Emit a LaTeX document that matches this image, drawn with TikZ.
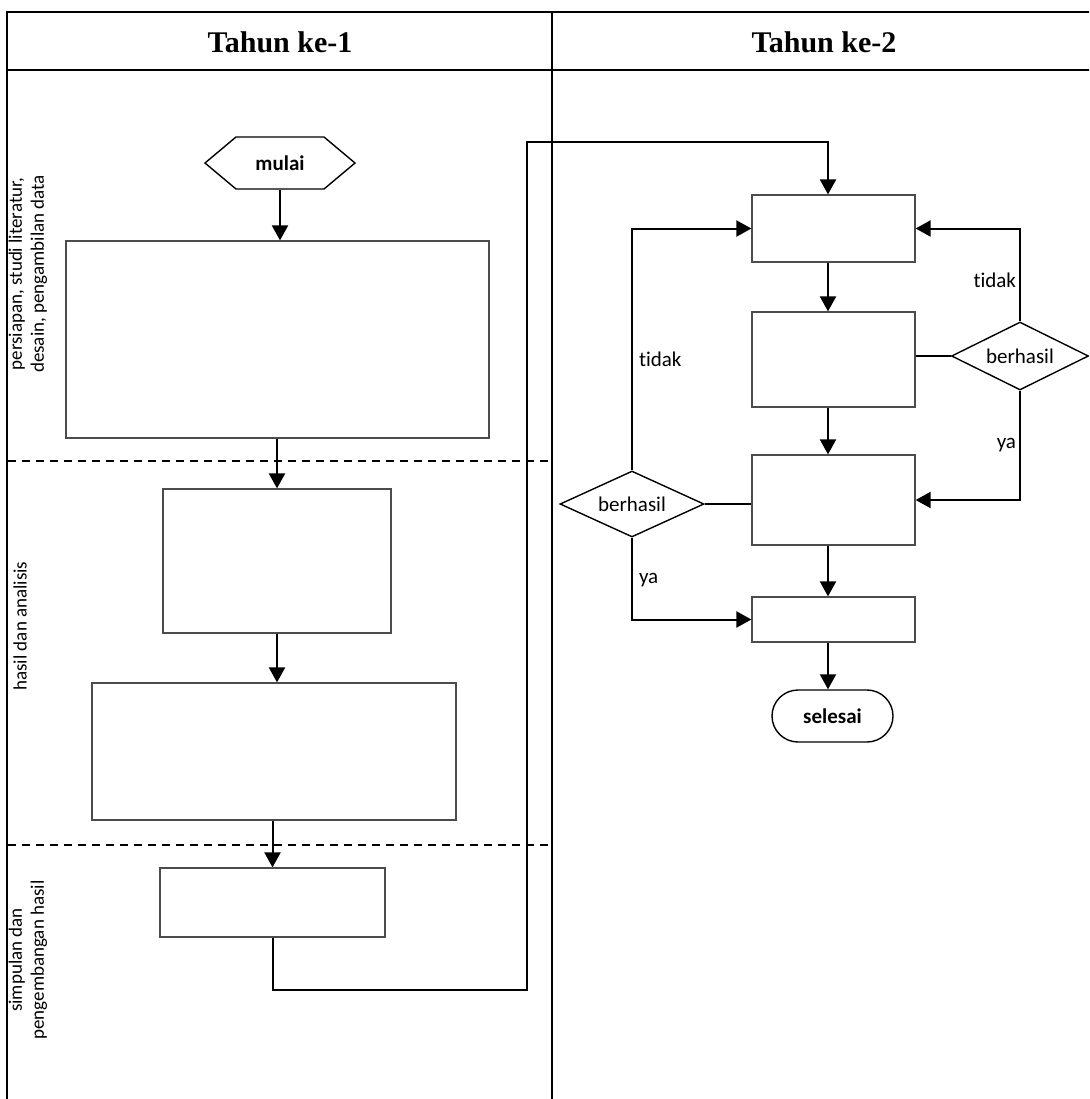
\documentclass[tikz,border=0pt]{standalone}
\usepackage{fontspec}
\setmainfont{Carlito}[Ligatures=NoCommon]
\newfontfamily\headfont{Liberation Serif}
\usetikzlibrary{arrows.meta,shapes.geometric,shapes.symbols}
\begin{document}
\begin{tikzpicture}[x=0.5pt,y=-0.5pt,
  font=\fontsize{10.5}{12.6}\selectfont,
  box/.style={draw=black!70, line width=0.6pt, inner sep=0pt},
  arr/.style={line width=1pt, -{Triangle[length=7.5pt,width=8pt]}},
  link/.style={line width=1pt},
  frame/.style={line width=1.4pt},
  choice/.style={diamond, draw, line width=0.7pt, aspect=2, inner sep=0pt},
  side/.style={rotate=90, align=center, font=\fontsize{9.5}{11}\selectfont},
  head/.style={font=\headfont\bfseries\fontsize{15}{18}\selectfont}]

\useasboundingbox (0,0) rectangle (1089,1099);
\clip (0,0) rectangle (1089,1099);

\draw[frame] (7,12) rectangle (1100,1110);
\draw[frame] (7,70) -- (1100,70);
\draw[line width=1pt] (552,12) -- (552,1110);
\draw[line width=1pt, dash pattern=on 4pt off 3pt] (8,461) -- (548,461);
\draw[line width=1pt, dash pattern=on 4pt off 3pt] (8,845) -- (548,845);

\node[head] (h1) at (280,42) {Tahun ke-1};
\node[head] (h2) at (824,42) {Tahun ke-2};

\node[side] (lab1) at (28,274) {persiapan, studi literatur,\\desain, pengambilan data};
\node[side] (lab2) at (20,626) {hasil dan analisis};
\node[side] (lab3) at (28,960) {simpulan dan\\pengembangan hasil};

\node[signal, signal to=east and west, signal pointer angle=80, draw, line width=0.7pt,
  minimum width=75pt, minimum height=26pt, inner sep=0pt, font=\bfseries\fontsize{10.5}{12.6}\selectfont] (mulai) at (280,163) {mulai};
\node[box, minimum width=211.5pt, minimum height=98.5pt] (b1) at (277.5,339.5) {};
\node[box, minimum width=114pt, minimum height=72pt] (b2) at (277,561) {};
\node[box, minimum width=182pt, minimum height=68.5pt] (b3) at (274,751.5) {};
\node[box, minimum width=112.5pt, minimum height=34.5pt] (b4) at (272.5,902.5) {};

\node[box, minimum width=81.5pt, minimum height=33.5pt] (bA) at (833.5,228.5) {};
\node[box, minimum width=81.5pt, minimum height=47.5pt] (bB) at (833.5,359.5) {};
\node[box, minimum width=81.5pt, minimum height=45pt] (bC) at (833.5,500) {};
\node[box, minimum width=81.5pt, minimum height=22.5pt] (bD) at (833.5,619.5) {};
\node[draw, line width=0.7pt, rounded corners=13pt, minimum width=60.5pt, minimum height=26pt,
  font=\bfseries\fontsize{10.5}{12.6}\selectfont] (selesai) at (832.5,716) {selesai};

\node[choice, minimum width=68.5pt, minimum height=34pt] (dR) at (1020,356) {berhasil};
\node[choice, minimum width=72pt, minimum height=33pt] (dL) at (632,504) {berhasil};

\coordinate (axis) at (828,100);
\coordinate (c1) at (527,990);
\coordinate (c2) at (527,142);

\draw[arr] (mulai.south) -- (mulai.south |- b1.north);
\draw[arr] (b1.south -| b2.north) -- (b2.north);
\draw[arr] (b2.south) -- (b2.south |- b3.north);
\draw[arr] (b3.south -| b4.north) -- (b4.north);
\draw[arr] (b4.south) |- (c1) -- (c2) -| (bA.north -| axis);

\draw[arr] (bA.south -| axis) -- (bB.north -| axis);
\draw[arr] (bB.south -| axis) -- (bC.north -| axis);
\draw[arr] (bC.south -| axis) -- (bD.north -| axis);
\draw[arr] (bD.south -| axis) -- (selesai.north -| axis);

\draw[link] (bB.east |- dR.west) -- (dR.west);
\draw[arr] (dR.north) |- (bA.east) node[pos=0.22, left, inner sep=1.5pt] {tidak};
\draw[arr] (dR.south) |- (bC.east) node[pos=0.25, left, inner sep=1.5pt] {ya};

\draw[link] (dL.east) -- (dL.east -| bC.west);
\draw[arr] (dL.north) |- (bA.west) node[pos=0.23, right, inner sep=3pt] {tidak};
\draw[arr] (dL.south) |- (bD.west) node[pos=0.26, right, inner sep=3pt] {ya};
\end{tikzpicture}
\end{document}
